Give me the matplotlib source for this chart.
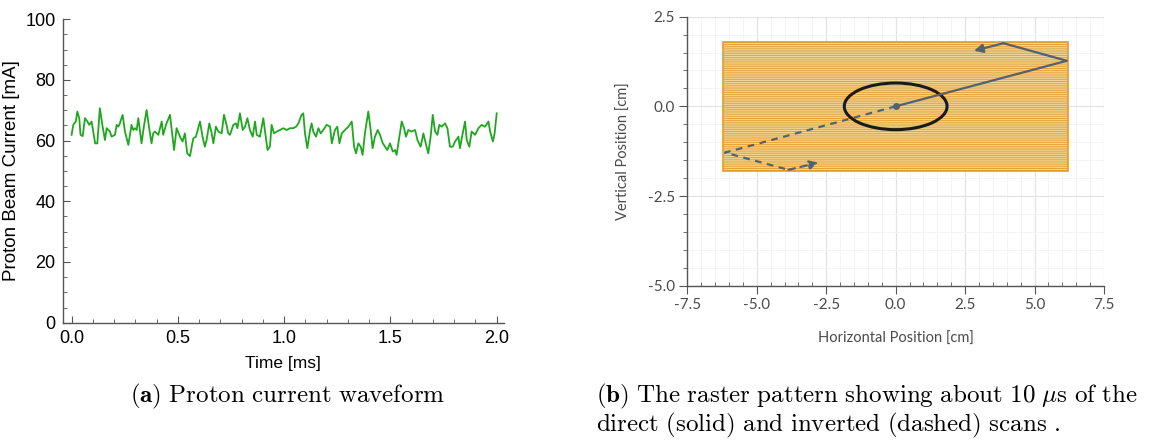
import matplotlib
matplotlib.use("Agg")
import matplotlib.pyplot as plt
from matplotlib.patches import Rectangle, Ellipse
from matplotlib.ticker import MultipleLocator

plt.rcParams['mathtext.fontset'] = 'cm'
plt.rcParams['hatch.linewidth'] = 0.6

# ---- (a) proton beam current waveform ----
time_ms = [0.000, 0.008, 0.020, 0.027, 0.036, 0.042, 0.052, 0.063, 0.074, 0.083,
           0.094, 0.102, 0.111, 0.121, 0.133, 0.146, 0.157, 0.165, 0.180, 0.188,
           0.204, 0.212, 0.220, 0.227, 0.240, 0.251, 0.267, 0.282, 0.290, 0.298,
           0.306, 0.314, 0.329, 0.340, 0.353, 0.365, 0.376, 0.384, 0.392, 0.408,
           0.424, 0.431, 0.444, 0.463, 0.475, 0.482, 0.494, 0.510, 0.522, 0.533,
           0.544, 0.557, 0.565, 0.573, 0.585, 0.604, 0.616, 0.627, 0.635, 0.648,
           0.659, 0.667, 0.679, 0.690, 0.706, 0.717, 0.729, 0.737, 0.745, 0.761,
           0.773, 0.780, 0.792, 0.805, 0.816, 0.827, 0.839, 0.852, 0.863, 0.871,
           0.886, 0.902, 0.910, 0.922, 0.933, 0.941, 0.952, 0.965, 0.980, 0.996,
           1.012, 1.027, 1.043, 1.056, 1.067, 1.082, 1.090, 1.098, 1.109, 1.122,
           1.129, 1.137, 1.150, 1.161, 1.172, 1.184, 1.200, 1.216, 1.224, 1.239,
           1.250, 1.260, 1.271, 1.286, 1.302, 1.318, 1.329, 1.338, 1.349, 1.360,
           1.369, 1.380, 1.396, 1.407, 1.416, 1.427, 1.440, 1.451, 1.464, 1.475,
           1.485, 1.498, 1.511, 1.522, 1.529, 1.542, 1.553, 1.564, 1.573, 1.584,
           1.600, 1.616, 1.627, 1.642, 1.655, 1.666, 1.678, 1.689, 1.699, 1.710,
           1.721, 1.730, 1.741, 1.757, 1.768, 1.780, 1.793, 1.804, 1.820, 1.827,
           1.840, 1.851, 1.859, 1.871, 1.882, 1.898, 1.914, 1.929, 1.945, 1.961,
           1.969, 1.982, 1.990, 2.000]
current_mA = [61.9, 65.2, 66.3, 69.6, 67.4, 61.9, 61.5, 67.4, 66.3, 65.2,
              66.3, 63.0, 59.1, 59.1, 70.7, 64.6, 60.2, 64.1, 63.0, 61.3,
              61.9, 65.2, 64.6, 65.7, 68.5, 63.0, 58.6, 65.2, 63.5, 64.1,
              63.5, 67.4, 59.1, 64.6, 70.1, 64.1, 59.1, 62.4, 63.0, 61.9,
              66.3, 61.9, 65.2, 68.5, 61.3, 56.9, 64.1, 61.3, 59.7, 62.4,
              55.8, 54.9, 58.0, 60.8, 61.3, 66.3, 61.3, 58.0, 60.2, 65.7,
              62.4, 59.1, 64.6, 63.0, 62.4, 68.5, 65.2, 62.4, 61.9, 65.2,
              65.7, 64.1, 69.0, 63.5, 64.6, 67.4, 63.5, 61.3, 66.3, 61.9,
              61.3, 67.4, 63.0, 56.9, 58.0, 65.2, 62.4, 63.0, 63.5, 64.1,
              63.5, 64.1, 64.1, 64.6, 65.7, 68.5, 69.0, 62.4, 57.5, 63.5,
              65.7, 63.0, 61.3, 64.1, 62.4, 63.5, 65.2, 64.6, 59.1, 63.5,
              64.6, 59.1, 62.4, 63.5, 64.6, 66.3, 58.0, 55.8, 59.1, 58.0,
              55.3, 62.4, 69.6, 63.5, 57.5, 61.3, 63.5, 61.9, 59.1, 58.0,
              56.9, 59.1, 56.4, 56.9, 55.3, 61.3, 66.3, 64.1, 61.3, 63.5,
              63.0, 63.5, 60.2, 58.0, 62.4, 59.1, 55.8, 61.3, 68.5, 63.0,
              61.9, 65.2, 64.6, 65.7, 64.1, 58.0, 58.0, 59.7, 61.3, 57.5,
              62.4, 66.3, 60.2, 58.0, 63.0, 61.9, 64.1, 65.2, 64.6, 66.3,
              63.0, 59.7, 62.4, 69.0]
time_ticks = [0.0, 0.5, 1.0, 1.5, 2.0]
time_ticklabels = ['0.0', '0.5', '1.0', '1.5', '2.0']
current_ticks = [0, 20, 40, 60, 80, 100]

# ---- (b) raster pattern ----
raster_x = [-6.2, 6.2]
raster_y = [-1.8, 1.8]
direct_x = [0.0, 6.16, 3.88, 2.82]
direct_y = [0.0, 1.27, 1.76, 1.55]
inverted_x = [0.0, -6.14, -3.86, -2.78]
inverted_y = [0.0, -1.29, -1.77, -1.57]
beam_center = (0.0, 0.0)
beam_size = (3.7, 1.3)
pos_xticks = [-7.5, -5.0, -2.5, 0.0, 2.5, 5.0, 7.5]
pos_yticks = [-5.0, -2.5, 0.0, 2.5]

fig = plt.figure(figsize=(11.54, 4.41), dpi=100)

# left panel
ax1 = fig.add_axes([0.0543, 0.2683, 0.3824, 0.688])
ax1.plot(time_ms, current_mA, color='#1FA81F', lw=1.3)
ax1.set_xlim(-0.042, 2.034)
ax1.set_ylim(0, 100)
for s in ('top', 'right'):
    ax1.spines[s].set_visible(False)
for s in ('left', 'bottom'):
    ax1.spines[s].set_color('#555555')
    ax1.spines[s].set_linewidth(1.0)
ax1.set_xticks(time_ticks)
ax1.set_xticklabels(time_ticklabels)
ax1.set_yticks(current_ticks)
ax1.xaxis.set_minor_locator(MultipleLocator(0.1))
ax1.yaxis.set_minor_locator(MultipleLocator(5))
ax1.tick_params(which='major', direction='in', length=5, width=0.8,
                color='#555555', labelsize=13, pad=5,
                labelfontfamily='Liberation Sans')
ax1.tick_params(which='minor', direction='in', length=3, width=0.6,
                color='#555555')
ax1.set_xlabel('Time [ms]', fontsize=12.5, family='Liberation Sans', labelpad=7)
ax1.set_ylabel('Proton Beam Current [mA]', fontsize=13.5,
               family='Liberation Sans', labelpad=4)

# right panel
gray = '#4a4a4a'
ax2 = fig.add_axes([0.5956, 0.3522, 0.3611, 0.61])
ax2.set_xlim(-7.5, 7.5)
ax2.set_ylim(-5.0, 2.5)
ax2.set_axisbelow(True)
ax2.set_xticks(pos_xticks)
ax2.set_yticks(pos_yticks)
ax2.set_xticklabels([f'{v:.1f}' for v in pos_xticks])
ax2.set_yticklabels([f'{v:.1f}' for v in pos_yticks])
ax2.xaxis.set_minor_locator(MultipleLocator(0.5))
ax2.yaxis.set_minor_locator(MultipleLocator(0.5))
ax2.grid(which='major', color='#e3e3e3', lw=0.9)
ax2.grid(which='minor', color='#f4f4f4', lw=0.7)
for s in ('top', 'right'):
    ax2.spines[s].set_visible(False)
for s in ('left', 'bottom'):
    ax2.spines[s].set_color('#555555')
    ax2.spines[s].set_linewidth(1.0)
ax2.tick_params(which='major', direction='out', length=6, width=0.8,
                color='#555555', labelsize=11, labelcolor=gray, pad=3,
                labelfontfamily='Lato')
ax2.tick_params(axis='x', which='minor', direction='in', length=3, width=0.6,
                color='#555555')
ax2.tick_params(axis='y', which='minor', direction='out', length=3, width=0.6,
                color='#555555')
ax2.set_xlabel('Horizontal Position [cm]', fontsize=10.5, family='Lato',
               color=gray, labelpad=14)
ax2.set_ylabel('Vertical Position [cm]', fontsize=10.5, family='Lato',
               color=gray, labelpad=12)

# raster area: dense orange scan lines with light gaps
raster = Rectangle((raster_x[0], raster_y[0]), raster_x[1] - raster_x[0],
                   raster_y[1] - raster_y[0], facecolor='#E2A53C',
                   edgecolor='#F6DDA6', hatch='---------', lw=0, zorder=2)
ax2.add_patch(raster)
ax2.add_patch(Rectangle((raster_x[0], raster_y[0]), raster_x[1] - raster_x[0],
                        raster_y[1] - raster_y[0], fill=False,
                        edgecolor='#DE9E2C', lw=1.2, zorder=2))

# beam footprint
ax2.add_patch(Ellipse(beam_center, beam_size[0], beam_size[1], fill=False,
                      edgecolor='#1a1a1a', lw=2.2, zorder=4))

# scan trajectories
line_col = '#566170'
ax2.plot(direct_x[:3], direct_y[:3], color=line_col, lw=1.6, zorder=5)
ax2.annotate('', xy=(direct_x[3], direct_y[3]), xytext=(direct_x[2], direct_y[2]),
             arrowprops=dict(arrowstyle='-|>', color=line_col, lw=1.6,
                             mutation_scale=13, shrinkA=0, shrinkB=0), zorder=5)
ax2.plot(inverted_x[:3], inverted_y[:3], color=line_col, lw=1.6, ls=(0, (3, 2.5)),
         zorder=5)
ax2.annotate('', xy=(inverted_x[3], inverted_y[3]),
             xytext=(inverted_x[2], inverted_y[2]),
             arrowprops=dict(arrowstyle='-|>', color=line_col, lw=1.6,
                             linestyle=(0, (3, 2.5)), mutation_scale=13,
                             shrinkA=0, shrinkB=0), zorder=5)
ax2.plot([beam_center[0]], [beam_center[1]], 'o', color=line_col, ms=4, zorder=6)

# captions
fig.text(0.2496, 0.100, r'$\mathbf{(a)}\ \mathrm{Proton\ current\ waveform}$',
         ha='center', va='center', fontsize=18)
fig.text(0.5165, 0.100,
         r'$\mathbf{(b)}\ \mathrm{The\ raster\ pattern\ showing\ about\ 10}\ '
         r'\mu\mathrm{s\ of\ the}$', ha='left', va='center', fontsize=18)
fig.text(0.5165, 0.036,
         r'$\mathrm{direct\ (solid)\ and\ inverted\ (dashed)\ scans\ .}$',
         ha='left', va='center', fontsize=18)

fig.savefig('out.png', dpi=100)
